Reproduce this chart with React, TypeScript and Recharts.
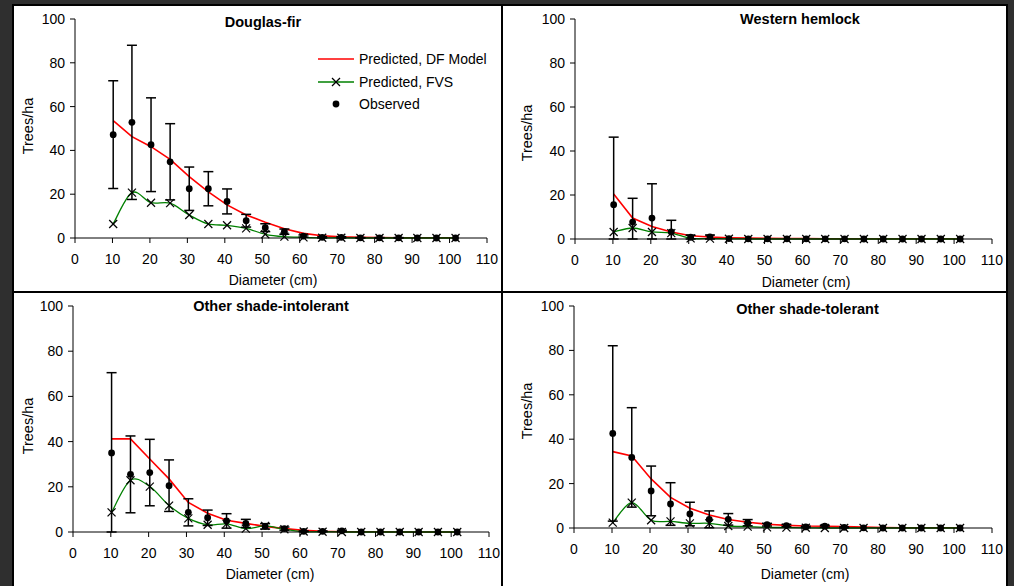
import React from 'react';
import { ComposedChart, Line, XAxis, YAxis, ErrorBar, Legend } from 'recharts';

const FONT = '"Liberation Sans", Arial, Helvetica, sans-serif';

// Diameter classes (cm)
const diameters = [10.2, 15.2, 20.3, 25.4, 30.5, 35.6, 40.6, 45.7, 50.8, 55.9, 61.0, 66.0, 71.1, 76.2, 81.3, 86.4, 91.4, 96.5, 101.6];
const xTicks = [0, 10, 20, 30, 40, 50, 60, 70, 80, 90, 100, 110];
const yTicks = [0, 20, 40, 60, 80, 100];

// Douglas-fir
const dfObserved = [47.2, 52.8, 42.6, 34.8, 22.5, 22.5, 16.7, 7.9, 4.7, 2.9, 0.9, 0.3, 0.3, 0.1, 0.1, 0.1, 0, 0, 0];
const dfObservedErr = [24.6, 35.2, 21.4, 17.4, 9.9, 7.8, 5.7, 2.9, 1.8, 1.2, 0.5, 0.3, 0.3, 0.1, 0.1, 0.1, 0, 0, 0];
const dfPredModel = [53.6, 46.3, 41.7, 35.9, 28.0, 21.1, 15.1, 10.5, 7.2, 4.2, 2.1, 1.0, 0.5, 0.3, 0.2, 0.1, 0.1, 0.1, 0.1];
const dfPredFvs = [6.4, 20.7, 16.1, 15.9, 10.5, 6.4, 5.8, 4.4, 1.7, 0.6, 0.3, 0.1, 0.1, 0, 0, 0, 0, 0, 0];

// Western hemlock
const whObserved = [15.6, 7.7, 9.5, 3.2, 0.8, 1.0, 0.2, 0.1, 0.1, 0.1, 0.1, 0.1, 0.1, 0, 0, 0, 0, 0, 0];
const whObservedErr: (number | number[])[] = [[15.6, 30.7], [7.7, 10.8], [9.5, 15.6], [3.2, 5.3], [0.8, 0.9], [1.0, 0.8], 0, 0, 0, 0, 0, 0, 0, 0, 0, 0, 0, 0, 0];
const whPredModel = [20.4, 9.5, 5.7, 3.2, 1.5, 0.9, 0.6, 0.4, 0.3, 0.2, 0.2, 0.1, 0.1, 0.1, 0.1, 0.1, 0.1, 0.1, 0.1];
const whPredFvs = [3.2, 5.0, 3.2, 2.7, 0.3, 0.2, 0.1, 0, 0, 0, 0, 0, 0, 0, 0, 0, 0, 0, 0];

// Other shade-intolerant
const siObserved = [35.0, 25.5, 26.3, 20.5, 8.7, 6.3, 4.9, 3.8, 2.5, 1.5, 0.3, 0.3, 0.5, 0, 0, 0, 0, 0, 0];
const siObservedErr: (number | number[])[] = [[35.0, 35.5], 17.0, 14.7, 11.4, 6.0, 3.4, 3.2, 1.8, 1.2, 0.7, 0.2, 0.2, 0.3, 0, 0, 0, 0, 0, 0];
const siPredModel = [41.2, 41.2, 32.3, 23.5, 13.1, 8.3, 5.2, 3.8, 2.5, 1.5, 0.7, 0.3, 0.1, 0.1, 0.1, 0, 0, 0, 0];
const siPredFvs = [8.7, 22.9, 20.1, 11.7, 6.0, 3.2, 3.6, 1.5, 2.7, 1.2, 0.2, 0.1, 0, 0, 0, 0, 0, 0, 0];

// Other shade-tolerant
const stObserved = [42.6, 31.8, 16.7, 10.8, 6.3, 3.9, 3.9, 2.4, 1.5, 1.1, 0.5, 0.8, 0.3, 0.1, 0, 0, 0, 0, 0];
const stObservedErr = [39.5, 22.4, 11.2, 9.6, 5.3, 3.8, 2.6, 1.4, 0.6, 0.5, 0.3, 0.4, 0.2, 0, 0, 0, 0, 0, 0];
const stPredModel = [34.4, 32.4, 22.1, 13.8, 8.9, 5.9, 3.8, 2.6, 1.7, 1.2, 0.9, 0.8, 0.6, 0.4, 0.2, 0.1, 0.1, 0.1, 0.1];
const stPredFvs = [2.4, 11.4, 3.5, 3.0, 2.1, 2.1, 0.9, 0.6, 0.3, 0.2, 0.1, 0, 0, 0, 0, 0, 0, 0, 0];

// Smoothed line (Catmull-Rom style, like a spreadsheet "smoothed line")
const smoothCurve = (context: any) => {
  let pts: number[][] = [];
  return {
    areaStart() {},
    areaEnd() {},
    lineStart() {
      pts = [];
    },
    point(x: number, y: number) {
      pts.push([+x, +y]);
    },
    lineEnd() {
      const n = pts.length;
      if (!n) return;
      context.moveTo(pts[0][0], pts[0][1]);
      const t = 1 / 6;
      for (let i = 0; i < n - 1; i++) {
        const p0 = pts[i - 1] || pts[i];
        const p1 = pts[i];
        const p2 = pts[i + 1];
        const p3 = pts[i + 2] || p2;
        context.bezierCurveTo(
          p1[0] + (p2[0] - p0[0]) * t,
          p1[1] + (p2[1] - p0[1]) * t,
          p2[0] - (p3[0] - p1[0]) * t,
          p2[1] - (p3[1] - p1[1]) * t,
          p2[0],
          p2[1]
        );
      }
    },
  };
};

const XMark = (props: any) => {
  const { cx, cy, index } = props;
  if (cx == null || cy == null) return <g key={`xm-${index}`} />;
  const s = 4;
  return (
    <g key={`xm-${index}`}>
      <line x1={cx - s} y1={cy - s} x2={cx + s} y2={cy + s} stroke="#000" strokeWidth={1.2} />
      <line x1={cx - s} y1={cy + s} x2={cx + s} y2={cy - s} stroke="#000" strokeWidth={1.2} />
    </g>
  );
};

const ObsDot = (props: any) => {
  const { cx, cy, index } = props;
  if (cx == null || cy == null) return <g key={`od-${index}`} />;
  return <circle key={`od-${index}`} cx={cx} cy={cy} r={3.4} fill="#000" />;
};

const LegendBox = () => {
  const row: React.CSSProperties = { display: 'flex', alignItems: 'center', height: 22.5 };
  const txt: React.CSSProperties = { marginLeft: 3, fontFamily: FONT, fontSize: 14, color: '#000', whiteSpace: 'nowrap' };
  return (
    <div>
      <div style={row}>
        <svg width={40} height={22}>
          <line x1={2} x2={38} y1={11} y2={11} stroke="#ff0000" strokeWidth={1.6} />
        </svg>
        <span style={txt}>Predicted, DF Model</span>
      </div>
      <div style={row}>
        <svg width={40} height={22}>
          <line x1={2} x2={38} y1={11} y2={11} stroke="#008000" strokeWidth={1.3} />
          <line x1={16} y1={7} x2={24} y2={15} stroke="#000" strokeWidth={1.2} />
          <line x1={16} y1={15} x2={24} y2={7} stroke="#000" strokeWidth={1.2} />
        </svg>
        <span style={txt}>Predicted, FVS</span>
      </div>
      <div style={row}>
        <svg width={40} height={22}>
          <circle cx={20} cy={11} r={3.4} fill="#000" />
        </svg>
        <span style={txt}>Observed</span>
      </div>
    </div>
  );
};

type PanelDef = {
  key: string;
  title: string;
  titleX: number;
  titleY: number;
  xLabelX: number;
  xLabelY: number;
  yLabelX: number;
  yLabelY: number;
  obs: number[];
  err: (number | number[])[];
  model: number[];
  fvs: number[];
  left: number;
  top: number;
  width: number;
  height: number;
  x0: number;
  x1: number;
  y0: number;
  y1: number;
  legend?: boolean;
};

const panels: PanelDef[] = [
  {
    key: 'df', title: 'Douglas-fir', titleX: 263, titleY: 26.5,
    xLabelX: 273, xLabelY: 285, yLabelX: 33, yLabelY: 126,
    obs: dfObserved, err: dfObservedErr, model: dfPredModel, fvs: dfPredFvs,
    left: 14, top: 5, width: 488, height: 287, x0: 75, x1: 487, y0: 19, y1: 238, legend: true,
  },
  {
    key: 'wh', title: 'Western hemlock', titleX: 800, titleY: 24,
    xLabelX: 806, xLabelY: 287, yLabelX: 532, yLabelY: 133,
    obs: whObserved, err: whObservedErr, model: whPredModel, fvs: whPredFvs,
    left: 502, top: 5, width: 504, height: 287, x0: 575, x1: 992, y0: 19, y1: 239,
  },
  {
    key: 'si', title: 'Other shade-intolerant', titleX: 271, titleY: 310.5,
    xLabelX: 270, xLabelY: 578.5, yLabelX: 33, yLabelY: 426,
    obs: siObserved, err: siObservedErr, model: siPredModel, fvs: siPredFvs,
    left: 14, top: 292, width: 488, height: 294, x0: 73, x1: 489, y0: 306, y1: 532,
  },
  {
    key: 'st', title: 'Other shade-tolerant', titleX: 807.5, titleY: 313.5,
    xLabelX: 805, xLabelY: 578.5, yLabelX: 532, yLabelY: 411,
    obs: stObserved, err: stObservedErr, model: stPredModel, fvs: stPredFvs,
    left: 502, top: 292, width: 504, height: 294, x0: 574, x1: 992, y0: 306, y1: 528,
  },
];

const tickStyle = { fill: '#000', fontSize: 14, fontFamily: FONT };

const PanelChart = ({ p }: { p: PanelDef }) => {
  const rows = diameters.map((d, i) => ({
    d,
    model: p.model[i],
    fvs: p.fvs[i],
    obs: p.obs[i],
    err: p.err[i],
  }));
  const yAxisWidth = p.x0 - p.left;
  const xAxisHeight = p.top + p.height - p.y1;
  return (
    <div style={{ position: 'absolute', left: p.left, top: p.top }}>
      <ComposedChart
        width={p.width}
        height={p.height}
        data={rows}
        margin={{ top: p.y0 - p.top, right: p.left + p.width - p.x1, bottom: 0, left: 0 }}
      >
        <XAxis
          dataKey="d"
          type="number"
          domain={[0, 110]}
          ticks={xTicks}
          interval={0}
          tickSize={5}
          tickMargin={11}
          height={xAxisHeight}
          tick={tickStyle}
          axisLine={{ stroke: '#000', strokeWidth: 1 }}
          tickLine={{ stroke: '#000', strokeWidth: 1 }}
        />
        <YAxis
          type="number"
          domain={[0, 100]}
          ticks={yTicks}
          interval={0}
          tickSize={5}
          tickMargin={5}
          width={yAxisWidth}
          tick={tickStyle}
          axisLine={{ stroke: '#000', strokeWidth: 1 }}
          tickLine={{ stroke: '#000', strokeWidth: 1 }}
        />
        {p.legend && (
          <Legend
            layout="vertical"
            align="center"
            verticalAlign="middle"
            content={() => <LegendBox />}
            wrapperStyle={{ left: 302, top: 43, width: 180, bottom: 'auto', right: 'auto' }}
          />
        )}
        <Line
          dataKey="model"
          type="linear"
          stroke="#ff0000"
          strokeWidth={1.6}
          dot={false}
          activeDot={false}
          isAnimationActive={false}
        />
        <Line
          dataKey="fvs"
          type={smoothCurve as any}
          stroke="#008000"
          strokeWidth={1.3}
          dot={XMark}
          activeDot={false}
          isAnimationActive={false}
        />
        <Line
          dataKey="obs"
          type="linear"
          stroke="none"
          dot={ObsDot}
          activeDot={false}
          isAnimationActive={false}
        >
          <ErrorBar dataKey="err" direction="y" width={5} stroke="#000" strokeWidth={1.5} isAnimationActive={false} />
        </Line>
      </ComposedChart>
    </div>
  );
};

export default function App() {
  return (
    <div
      style={{
        position: 'fixed',
        left: 0,
        top: 0,
        width: 1014,
        height: 586,
        background: '#2f2f2f',
        overflow: 'hidden',
      }}
    >
      {/* white sheet with dark frame */}
      <div style={{ position: 'absolute', left: 12, top: 4, width: 996, height: 590, background: '#000' }} />
      <div style={{ position: 'absolute', left: 14, top: 6, width: 992, height: 590, background: '#fff' }} />
      <div style={{ position: 'absolute', left: 501, top: 6, width: 2, height: 580, background: '#000' }} />
      <div style={{ position: 'absolute', left: 14, top: 291, width: 992, height: 2, background: '#000' }} />

      {panels.map((p) => (
        <PanelChart key={p.key} p={p} />
      ))}

      <svg
        width={1014}
        height={586}
        style={{ position: 'absolute', left: 0, top: 0, pointerEvents: 'none' }}
      >
        {panels.map((p) => (
          <g key={`lbl-${p.key}`} fontFamily={FONT} fill="#000">
            <text x={p.titleX} y={p.titleY} textAnchor="middle" fontSize={14.5} fontWeight="bold">
              {p.title}
            </text>
            <text x={p.xLabelX} y={p.xLabelY} textAnchor="middle" fontSize={14}>
              Diameter (cm)
            </text>
            <text
              x={p.yLabelX}
              y={p.yLabelY}
              textAnchor="middle"
              fontSize={14.5}
              transform={`rotate(-90, ${p.yLabelX}, ${p.yLabelY})`}
            >
              Trees/ha
            </text>
          </g>
        ))}
      </svg>
    </div>
  );
}
